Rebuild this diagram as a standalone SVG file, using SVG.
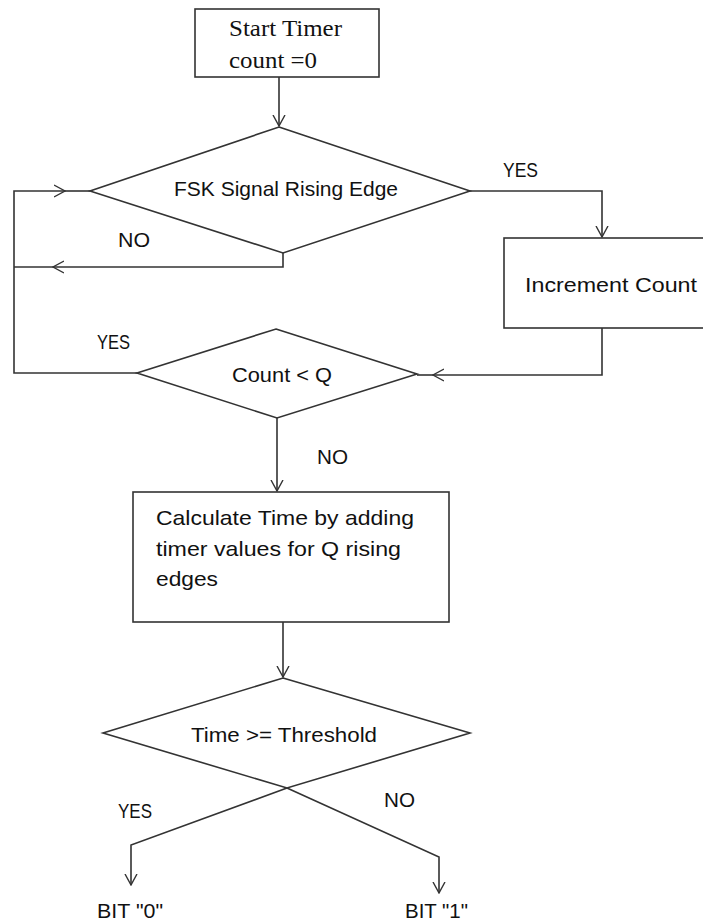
<svg xmlns="http://www.w3.org/2000/svg" width="703" height="924" viewBox="0 0 703 924">
<defs>
<style>
.shape{fill:#fff;stroke:#333;stroke-width:1.6}
.line{fill:none;stroke:#333;stroke-width:1.6}
.t{font-family:"Liberation Sans",Arial,sans-serif;font-size:21px;fill:#111}
.s{font-family:"Liberation Serif","Times New Roman",serif;font-size:24px;fill:#111}
</style>
<marker id="arr" viewBox="0 0 12 14" refX="11" refY="7" markerWidth="12" markerHeight="14" markerUnits="userSpaceOnUse" orient="auto">
<path d="M0,1 L11,7 L0,13" fill="none" stroke="#333" stroke-width="1.4"/>
</marker>
</defs>
<rect width="703" height="924" fill="#fff"/>

<g id="connectors">
<line class="line" x1="279" y1="77" x2="279" y2="126" marker-end="url(#arr)"/>
<polyline class="line" points="470,191 602,191 602,237" marker-end="url(#arr)"/>
<polyline class="line" points="283,253 283,267 53,267" marker-end="url(#arr)"/>
<line class="line" x1="53" y1="267" x2="14" y2="267"/>
<polyline class="line" points="137,373 14,373 14,191 65,191" marker-end="url(#arr)"/>
<line class="line" x1="65" y1="191" x2="90" y2="191"/>
<polyline class="line" points="602,328 602,375 433,375" marker-end="url(#arr)"/>
<line class="line" x1="433" y1="375" x2="417" y2="375"/>
<line class="line" x1="277" y1="418" x2="277" y2="491" marker-end="url(#arr)"/>
<line class="line" x1="283" y1="622" x2="283" y2="677" marker-end="url(#arr)"/>
<polyline class="line" points="287,788 131,845 131,885" marker-end="url(#arr)"/>
<polyline class="line" points="287,788 439,857 439,893" marker-end="url(#arr)"/>
</g>

<g id="start">
<rect class="shape" x="195" y="9" width="184" height="68"/>
<text class="s" x="229" y="36" textLength="113" lengthAdjust="spacingAndGlyphs">Start Timer</text>
<text class="s" x="229" y="68" textLength="88" lengthAdjust="spacingAndGlyphs">count =0</text>
</g>

<g id="fsk">
<polygon class="shape" points="279,127 470,191 283,253 90,191"/>
<text class="t" x="286" y="196" text-anchor="middle" textLength="224" lengthAdjust="spacingAndGlyphs">FSK Signal Rising Edge</text>
</g>

<g id="increment">
<rect class="shape" x="504" y="238" width="205" height="90"/>
<text class="t" x="525" y="292" textLength="172" lengthAdjust="spacingAndGlyphs">Increment Count</text>
</g>

<g id="countq">
<polygon class="shape" points="276,329 417,374 277,418 137,373"/>
<text class="t" x="232" y="382" textLength="100" lengthAdjust="spacingAndGlyphs">Count &lt; Q</text>
</g>

<g id="calc">
<rect class="shape" x="133" y="492" width="316" height="130"/>
<text class="t" x="156" y="525" textLength="258" lengthAdjust="spacingAndGlyphs">Calculate Time by adding</text>
<text class="t" x="156" y="556" textLength="245" lengthAdjust="spacingAndGlyphs">timer values for Q rising</text>
<text class="t" x="156" y="586" textLength="62" lengthAdjust="spacingAndGlyphs">edges</text>
</g>

<g id="threshold">
<polygon class="shape" points="283,678 470,733 287,788 103,733"/>
<text class="t" x="191" y="742" textLength="186" lengthAdjust="spacingAndGlyphs">Time &gt;= Threshold</text>
</g>

<g id="labels">
<text class="t" x="503" y="177" textLength="35" lengthAdjust="spacingAndGlyphs">YES</text>
<text class="t" x="118" y="247" textLength="32" lengthAdjust="spacingAndGlyphs">NO</text>
<text class="t" x="97" y="349" textLength="33" lengthAdjust="spacingAndGlyphs">YES</text>
<text class="t" x="317" y="464" textLength="31" lengthAdjust="spacingAndGlyphs">NO</text>
<text class="t" x="118" y="818" textLength="34" lengthAdjust="spacingAndGlyphs">YES</text>
<text class="t" x="384" y="807" textLength="31" lengthAdjust="spacingAndGlyphs">NO</text>
</g>

<g id="bit0">
<text class="t" x="97" y="918" textLength="66" lengthAdjust="spacingAndGlyphs">BIT "0"</text>
</g>
<g id="bit1">
<text class="t" x="405" y="918" textLength="63" lengthAdjust="spacingAndGlyphs">BIT "1"</text>
</g>
</svg>
